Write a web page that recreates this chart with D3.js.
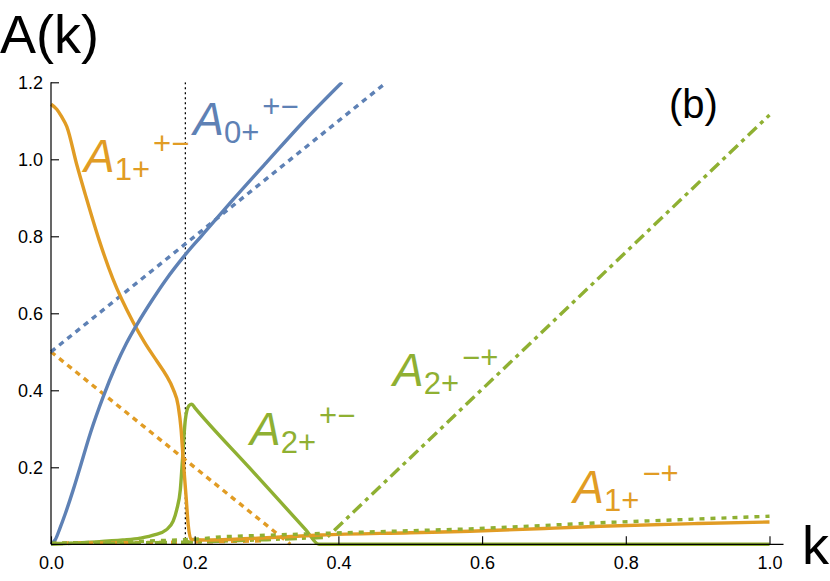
<!DOCTYPE html>
<html><head><meta charset="utf-8">
<script src="https://cdn.jsdelivr.net/npm/d3@7"></script>
<style>body{margin:0;background:#fff}svg{display:block}</style>
</head><body>
<svg id="c" width="830" height="581"></svg>
<script>
// ---- data (k, A) ----
const blueSolid = [[0,0],[0.006,0.012],[0.0125,0.042],[0.02,0.08],[0.031,0.142],[0.04,0.197],[0.055,0.29],[0.073,0.385],[0.09,0.463],[0.105,0.522],[0.12,0.572],[0.14,0.632],[0.161,0.69],[0.185,0.748],[0.209,0.80],[0.25,0.888],[0.3,0.992],[0.35,1.095],[0.405,1.2]];
const blueDotted = [[0,0.5],[0.467,1.2]];
const orangeSolid = [[0,1.143],[0.008,1.13],[0.015,1.11],[0.022,1.085],[0.036,0.985],[0.048,0.907],[0.067,0.79],[0.086,0.69],[0.114,0.578],[0.13,0.525],[0.148,0.474],[0.16,0.44],[0.170,0.403],[0.177,0.36],[0.181,0.30],[0.184,0.22],[0.188,0.124],[0.191,0.05],[0.195,0.013],[0.21,0.011],[0.3,0.017],[0.375,0.024],[0.5,0.03],[0.583,0.034],[0.7,0.042],[0.765,0.047],[0.9,0.054],[1.0,0.058]];
const orangeDotted = [[0,0.5],[0.333,0]];
const orangeDottedLow = [[0,0.003],[0.1,0.004],[0.2,0.006],[0.3,0.009]];
const greenSolid = [[0,0],[0.05,0.005],[0.1,0.011],[0.124,0.016],[0.145,0.025],[0.16,0.037],[0.17,0.06],[0.175,0.09],[0.18,0.142],[0.183,0.22],[0.187,0.324],[0.192,0.36],[0.196,0.364],[0.2,0.355],[0.277,0.197],[0.355,0.037],[0.373,0],[0.4,0],[1.0,0]];
const greenDashDot = [[0,0.002],[0.1,0.003],[0.2,0.006],[0.3,0.012],[0.384,0.018],[1.0,1.115]];
const greenDotted = [[0,0.003],[0.1,0.006],[0.2,0.013],[0.24,0.02],[0.39,0.029],[0.583,0.040],[0.765,0.056],[0.987,0.072],[1.0,0.073]];
const markerK = 0.187;

const xMajor = [0,0.2,0.4,0.6,0.8,1.0];
const xMinor = d3.range(0,1.0001,0.05);
const yMajor = [0.2,0.4,0.6,0.8,1.0,1.2];
const yMinor = d3.range(0.05,1.2001,0.05);

const labels = [
  {sub:"0+", sup:"+\u2212", k:0.198, a:1.063, c:"#5E81B5"},
  {sub:"1+", sup:"+\u2212", k:0.046, a:0.966, c:"#E19C24"},
  {sub:"2+", sup:"+\u2212", k:0.277, a:0.259, c:"#8FB032"},
  {sub:"2+", sup:"\u2212+", k:0.476, a:0.41,  c:"#8FB032"},
  {sub:"1+", sup:"\u2212+", k:0.727, a:0.108, c:"#E19C24"}
];

const BLUE="#5E81B5", ORANGE="#E19C24", GREEN="#8FB032";
const svg = d3.select("#c");
const x = d3.scaleLinear().domain([0,1]).range([51,769.5]);
const y = d3.scaleLinear().domain([0,1.2]).range([544.3,82.3]);
const font = "'Liberation Sans', Arial, Helvetica, sans-serif";
const SW = 3.4;

svg.append("defs").append("clipPath").attr("id","clip")
  .append("rect").attr("x",0).attr("y",y(1.2)).attr("width",830).attr("height",y(0)-y(1.2)+10);

const lineLin = d3.line().x(d=>x(d[0])).y(d=>y(d[1]));
const lineSmooth = d3.line().x(d=>x(d[0])).y(d=>y(d[1])).curve(d3.curveMonotoneX);
const g = svg.append("g").attr("clip-path","url(#clip)");

function draw(data, color, dash, gen){
  g.append("path").datum(data).attr("d",gen)
   .attr("fill","none").attr("stroke",color).attr("stroke-width",SW)
   .attr("stroke-dasharray",dash||null).attr("stroke-linejoin","round");
}

g.append("line").attr("x1",x(markerK)).attr("x2",x(markerK)).attr("y1",y(0)).attr("y2",y(1.2))
 .attr("stroke","#000").attr("stroke-width",1.3).attr("stroke-dasharray","2,3");

draw(greenSolid, GREEN, null, lineSmooth);
draw(orangeDottedLow, ORANGE, "6,6", lineLin);
draw(greenDashDot, GREEN, "12,5,4,5", lineLin);
draw(orangeDotted, ORANGE, "5.5,5", lineLin);
draw(blueDotted, BLUE, "5.5,5", lineLin);
draw(orangeSolid, ORANGE, null, lineSmooth);
draw(blueSolid, BLUE, null, lineSmooth);
draw(greenDotted, GREEN, "5,6", lineLin);

// axes
const xAxis = svg.append("g").attr("transform",`translate(0,${y(0)})`);
xAxis.call(d3.axisBottom(x).tickValues(xMinor).tickSizeInner(-5).tickSizeOuter(0).tickFormat(""));
xAxis.call(d3.axisBottom(x).tickValues(xMajor).tickSizeInner(-8).tickSizeOuter(0).tickPadding(12).tickFormat(d3.format(".1f")));
xAxis.selectAll(".domain").remove();
xAxis.append("line").attr("x1",x(0)).attr("x2",x(1)+14).attr("stroke","#000").attr("stroke-width",1.2);

const yAxis = svg.append("g").attr("transform",`translate(${x(0)},0)`);
yAxis.call(d3.axisLeft(y).tickValues(yMinor).tickSizeInner(-5).tickSizeOuter(0).tickFormat(""));
yAxis.call(d3.axisLeft(y).tickValues(yMajor).tickSizeInner(-8).tickSizeOuter(0).tickPadding(8).tickFormat(d3.format(".1f")));
yAxis.selectAll(".domain").remove();
yAxis.append("line").attr("y1",y(0)).attr("y2",y(1.2)).attr("stroke","#000").attr("stroke-width",1.2);

svg.selectAll(".tick line").attr("stroke","#000").attr("stroke-width",1.1);
svg.selectAll(".tick text").attr("font-family",font).attr("font-size",18).attr("fill","#000");

svg.append("text").attr("x",0).attr("y",53).attr("font-family",font).attr("font-size",54).text("A(k)");
svg.append("text").attr("x",802).attr("y",564).attr("font-family",font).attr("font-size",54).text("k");
svg.append("text").attr("x",669).attr("y",118).attr("font-family",font).attr("font-size",40).text("(b)");

labels.forEach(L=>{
  const t = svg.append("text").attr("x",x(L.k)).attr("y",y(L.a)).attr("font-family",font).attr("fill",L.c);
  t.append("tspan").attr("font-style","italic").attr("font-size",46).text("A");
  t.append("tspan").attr("font-size",31).attr("dy",8).text(L.sub);
  t.append("tspan").attr("font-size",31).attr("dx",3).attr("dy",-26.5).text(L.sup);
});
</script>
</body></html>
